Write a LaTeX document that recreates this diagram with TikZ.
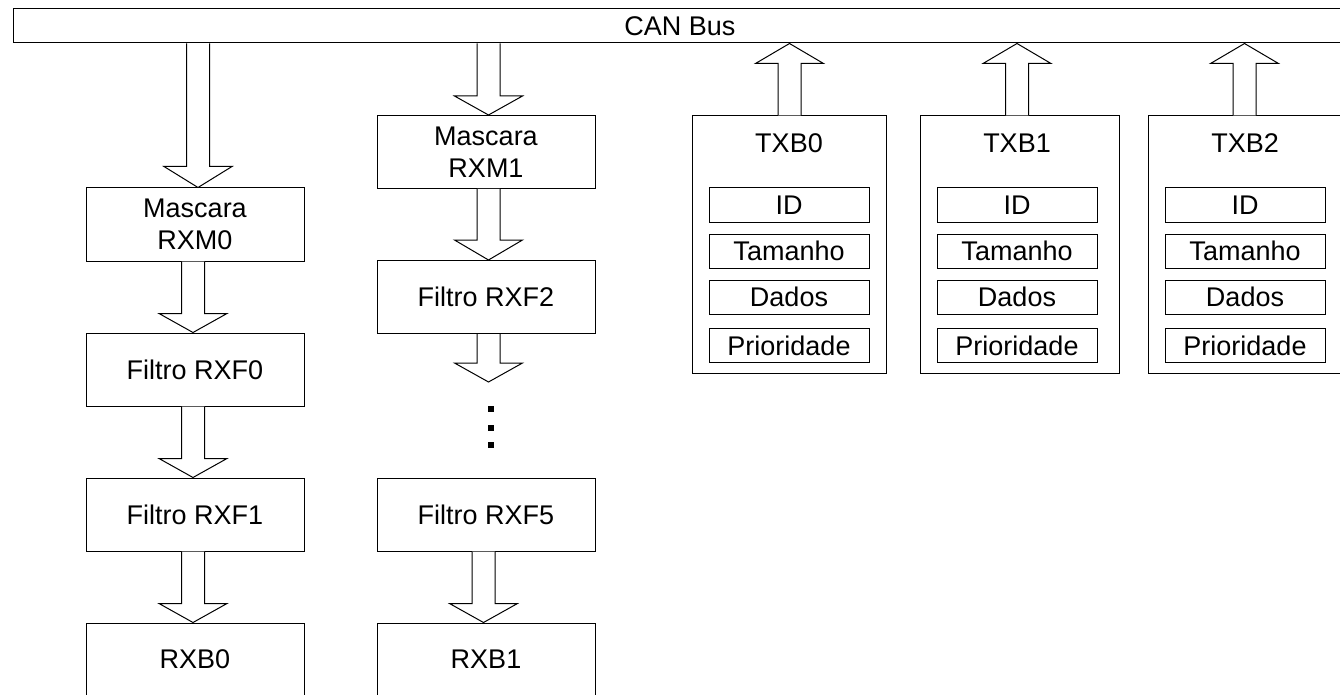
\documentclass[tikz,border=0pt]{standalone}
\usepackage{fontspec}
\setmainfont{Liberation Sans}
\usetikzlibrary{calc}
\tikzset{
 txt/.style={font=\fontsize{27}{32}\selectfont},
 box/.style={draw=black, line width=1pt, inner sep=0pt, minimum width=218pt, minimum height=73pt, align=center, txt},
 field/.style={draw=black, line width=1pt, inner sep=0pt, minimum width=160pt, minimum height=34pt, txt},
 txbox/.style={draw=black, line width=1pt, inner sep=0pt, minimum width=194pt, minimum height=257pt},
 lbl/.style={inner sep=0pt, txt},
 fat/.style={draw=black, fill=white, line width=1pt, line join=miter},
 dotsq/.style={fill=black, inner sep=0pt, minimum size=6pt},
}
\newcommand\fatdown[4]{%
 \draw[fat] ($({#1},0 |- #2)+(-11.5,0)$) -- ($({#1},0 |- #3)+(-11.5,-#4)$) -- ($({#1},0 |- #3)+(-34,-#4)$) -- ({#1},0 |- #3) -- ($({#1},0 |- #3)+(34,-#4)$) -- ($({#1},0 |- #3)+(11.5,-#4)$) -- ($({#1},0 |- #2)+(11.5,0)$);}
\newcommand\fatup[4]{%
 \draw[fat] ($({#1},0 |- #2)+(-11.5,0)$) -- ($({#1},0 |- #3)+(-11.5,#4)$) -- ($({#1},0 |- #3)+(-34,#4)$) -- ({#1},0 |- #3) -- ($({#1},0 |- #3)+(34,#4)$) -- ($({#1},0 |- #3)+(11.5,#4)$) -- ($({#1},0 |- #2)+(11.5,0)$);}
\begin{document}
\begin{tikzpicture}[x=1pt,y=-1pt]
\clip (0,0) rectangle (1340,695);
\fill[white] (0,0) rectangle (1340,695);
% bus
\node[draw=black, line width=1pt, inner sep=0pt, minimum width=1334pt, minimum height=34pt, txt] (bus) at (680,26) {CAN Bus};
% left column
\node[box] (rxm0) at (195,224.5) {Mascara\\RXM0};
\node[box] (rxf0) at (195,369.5) {Filtro RXF0};
\node[box] (rxf1) at (195,514.5) {Filtro RXF1};
\node[box] (rxb0) at (195,659.5) {RXB0};
% middle column
\node[box] (rxm1) at (486,152) {Mascara\\RXM1};
\node[box] (rxf2) at (486,297) {Filtro RXF2};
\node[box] (rxf5) at (486,514.5) {Filtro RXF5};
\node[box] (rxb1) at (486,659.5) {RXB1};
\coordinate (dend) at (489,382);
\node[dotsq] (d1) at (491,409) {};
\node[dotsq] (d2) at (491,427.5) {};
\node[dotsq] (d3) at (491,445) {};
% TX buffers
\node[txbox] (txb0) at (789,244.5) {};
\node[txbox, minimum width=199pt] (txb1) at (1019.5,244.5) {};
\node[txbox] (txb2) at (1245,244.5) {};
\foreach \n/\cx/\t in {0/789/TXB0,1/1017/TXB1,2/1245/TXB2}{
 \node[lbl] (txb\n t) at (\cx,143) {\t};
 \node[field] (txb\n id) at (\cx,205) {ID};
 \node[field] (txb\n tam) at (\cx,251) {Tamanho};
 \node[field] (txb\n dad) at (\cx,297) {Dados};
 \node[field] (txb\n pri) at (\cx,345.5) {Prioridade};
}
% arrows
\fatdown{198}{bus.south}{rxm0.north}{21}
\fatdown{193}{rxm0.south}{rxf0.north}{19}
\fatdown{193}{rxf0.south}{rxf1.north}{19}
\fatdown{193}{rxf1.south}{rxb0.north}{19}
\fatdown{488.5}{bus.south}{rxm1.north}{19}
\fatdown{488.5}{rxm1.south}{rxf2.north}{20}
\fatdown{488.5}{rxf2.south}{dend}{19}
\fatdown{483.5}{rxf5.south}{rxb1.north}{19}
\fatup{789.5}{txb0.north}{bus.south}{20}
\fatup{1017}{txb1.north}{bus.south}{20}
\fatup{1244.5}{txb2.north}{bus.south}{20}
\end{tikzpicture}
\end{document}
